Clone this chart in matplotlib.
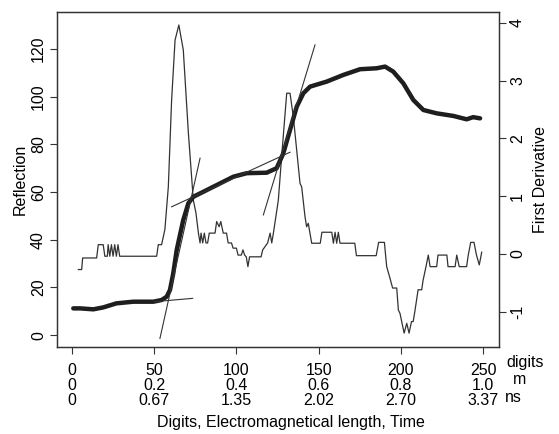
import matplotlib
matplotlib.use('Agg')
import matplotlib.pyplot as plt

plt.rcParams['font.family'] = ['Liberation Sans', 'DejaVu Sans']

# Reflection profile (thick line, left axis): digit, reflection
refl_x = [0.8, 4.9, 13, 19, 27, 37.3, 49.5, 54.5, 57.6, 59.6, 61.6, 63.7, 67.7, 70.8,
          73.8, 79.9, 88, 98.1, 106.3, 118.4, 124.5, 128.5, 132.6, 136.7, 140.7, 144.8,
          154.9, 165, 175.2, 185.3, 190.4, 195.4, 201.5, 207.6, 213.7, 221.8, 232, 240,
          244, 248.2]
refl_y = [11.2, 11.2, 10.8, 11.6, 13.3, 14.0, 14.0, 14.7, 16.1, 18.9, 25.9, 35.7, 48.3, 55.3,
          58.0, 60.1, 62.9, 66.4, 67.9, 68.1, 70.0, 76.2, 86.0, 95.8, 101.4, 104.2,
          106.3, 109.1, 111.5, 111.9, 112.6, 110.5, 105.6, 98.6, 94.4, 93.0, 91.9, 90.5,
          91.4, 90.9]

# First derivative (thin line, right axis)
deriv_x = [3.9, 5.9, 6.5, 15, 16, 19, 20, 21.5, 22, 23, 24, 25, 26, 27, 28, 29, 51.5,
           52.5, 54.5, 55.5, 56.5, 58.6, 60.6, 62.7, 65, 67.7, 70.8, 73.8, 75.4, 76.9,
           77.9, 78.5, 79.5, 80.5, 81.5, 82.5, 83.5, 87, 88, 89.5, 90.5, 92, 94, 95, 97,
           98, 100, 101, 103, 104, 105, 106, 107, 108, 115, 116, 119, 120.5, 121.5,
           122.5, 125.5, 127.5, 130.6, 132.6, 134.6, 138.7, 139.7, 141.7, 142.7, 143.7,
           145.8, 151, 152, 158, 159, 160, 161, 162, 163, 164, 172, 173, 185, 186.5, 190,
           191.4, 193.4, 195, 197.5, 198.5, 199.5, 202, 203.6, 205, 206.5, 207.5, 208.5,
           210.5, 212.7, 213.5, 215.3, 216.7, 217.8, 221.8, 222.6, 228, 228.7, 233, 234,
           235.5, 240, 241, 242.5, 244.5, 246, 247.7, 249.2]
deriv_y = [-0.27, -0.27, -0.07, -0.07, 0.16, 0.16, -0.04, -0.04, 0.16, -0.04, 0.16, -0.04,
           0.16, -0.04, 0.16, -0.04, -0.04,
           0.16, 0.16, 0.29, 0.42, 1.16, 2.66, 3.7, 3.96, 3.53, 2.09, 0.93, 0.71, 0.36,
           0.19, 0.36, 0.19, 0.36, 0.19, 0.19, 0.36, 0.36, 0.56, 0.47, 0.56, 0.36, 0.36,
           0.19, 0.19, 0.1, 0.1, -0.02, -0.02, 0.07, -0.02, -0.05, -0.22, -0.05, -0.05,
           0.07, 0.19, 0.36, 0.19, 0.36, 0.93, 1.68, 2.78, 2.78, 2.38, 1.22, 1.16, 0.65,
           0.47, 0.53, 0.185, 0.185, 0.375, 0.375, 0.185, 0.375, 0.185, 0.375, 0.185,
           0.185, 0.185, -0.03, -0.03, 0.2, 0.2, -0.22, -0.42, -0.59, -0.59, -0.97, -1.03,
           -1.37, -1.2, -1.37, -1.17, -1.17, -1.0, -0.62, -0.62, -0.46, -0.22, -0.02,
           -0.22, -0.22, -0.02, -0.02, -0.22, -0.22, -0.02, -0.22, -0.22, -0.02, 0.2, 0.2,
           -0.02, -0.19, 0.03]

# tangent lines (start, end) in digit / reflection units
tangents = [
    ((53.5, 77.9), (-1.4, 74.2)),
    ((50.0, 73.4), (14.0, 15.4)),
    ((60.6, 132.6), (53.8, 76.7)),
    ((116.4, 147.8), (50.4, 121.7)),
]

digit_ticks = [0, 50, 100, 150, 200, 250]
length_labels = ['0', '0.2', '0.4', '0.6', '0.8', '1.0']
time_labels = ['0', '0.67', '1.35', '2.02', '2.70', '3.37']

fig = plt.figure(figsize=(5.59, 4.34), dpi=100)
ax = fig.add_axes([57 / 559, 1 - 347 / 434, (499 - 57) / 559, (347 - 12) / 434])
ax2 = ax.twinx()

ax2.plot(deriv_x, deriv_y, color='#333333', lw=0.9)
ax.plot(refl_x, refl_y, color='#1e1e1e', lw=3.2, solid_capstyle='round', solid_joinstyle='round')
for tx, ty in tangents:
    ax.plot(tx, ty, color='#333333', lw=0.8)

ax.set_zorder(ax2.get_zorder() + 1)
ax.patch.set_visible(False)

ax.set_xlim(-9.1, 259.7)
ax.set_ylim(-5.0, 135.5)
ax2.set_ylim(-1.61, 4.185)

fs = 11.5
ax.set_xticks(digit_ticks)
ax.set_xticklabels([f'{d}\n{m}\n{t}' for d, m, t in zip(digit_ticks, length_labels, time_labels)],
                   fontsize=fs, linespacing=1.0)
ax.set_yticks(range(0, 121, 20))
ax.set_yticklabels([str(v) for v in range(0, 121, 20)], rotation=90, va='center', fontsize=fs)
ax2.set_yticks(range(-1, 5))
ax2.set_yticklabels([str(v) for v in range(-1, 5)], rotation=90, va='center', fontsize=fs)

ax.tick_params(axis='y', direction='out', length=5, width=0.8, color='#333333', pad=3)
ax.tick_params(axis='x', direction='out', length=5, width=0.8, color='#333333', pad=6.5)
ax2.tick_params(axis='y', direction='out', length=5, width=0.8, color='#333333', pad=3)

for a in (ax, ax2):
    for s in a.spines.values():
        s.set_color('#333333')
        s.set_linewidth(0.9)

ax.set_ylabel('Reflection', fontsize=fs, labelpad=2)
ax2.set_ylabel('First Derivative', fontsize=fs, labelpad=6)

fig.text(506 / 559, 1 - 362 / 434, 'digits', fontsize=fs, va='center', ha='left')
fig.text(513 / 559, 1 - 379 / 434, 'm', fontsize=fs, va='center', ha='left')
fig.text(505 / 559, 1 - 397 / 434, 'ns', fontsize=fs, va='center', ha='left')
fig.text(291 / 559, 1 - 422 / 434, 'Digits, Electromagnetical length, Time', fontsize=fs,
         va='center', ha='center')

fig.savefig('out.png', dpi=100)
